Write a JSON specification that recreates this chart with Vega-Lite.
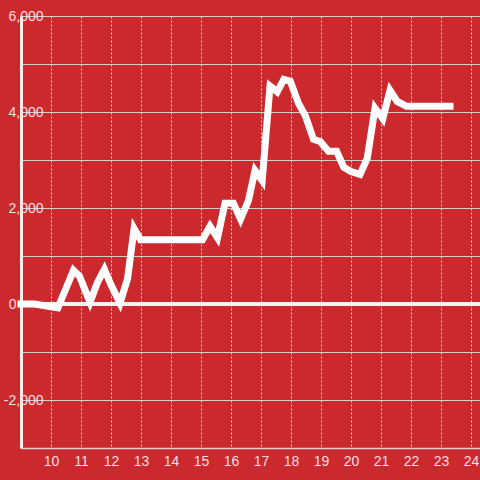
{
  "$schema": "https://vega.github.io/schema/vega-lite/v6.json",
  "width": 459,
  "height": 432,
  "autosize": {"type": "none"},
  "padding": {"left": 21, "top": 16, "right": 0, "bottom": 32},
  "background": "#cc292e",
  "config": {
    "view": {"stroke": null},
    "font": "Liberation Sans",
    "locale": {"number": {"decimal": ".", "thousands": ",", "grouping": [3], "currency": ["$", ""], "minus": "-"}}
  },
  "data": {
    "values": [
      {"t": 9.0, "v": 0},
      {"t": 9.45, "v": 0},
      {"t": 10.23, "v": -80},
      {"t": 10.45, "v": 250},
      {"t": 10.75, "v": 700},
      {"t": 10.95, "v": 580},
      {"t": 11.3, "v": 40},
      {"t": 11.55, "v": 450},
      {"t": 11.78, "v": 720},
      {"t": 12.0, "v": 400},
      {"t": 12.3, "v": 20},
      {"t": 12.55, "v": 520},
      {"t": 12.77, "v": 1570},
      {"t": 12.98, "v": 1340},
      {"t": 15.05, "v": 1340},
      {"t": 15.3, "v": 1620},
      {"t": 15.55, "v": 1380},
      {"t": 15.8, "v": 2100},
      {"t": 16.08, "v": 2100},
      {"t": 16.32, "v": 1770},
      {"t": 16.58, "v": 2150},
      {"t": 16.8, "v": 2780},
      {"t": 17.04, "v": 2570},
      {"t": 17.3, "v": 4540},
      {"t": 17.54, "v": 4420},
      {"t": 17.76, "v": 4680},
      {"t": 17.98, "v": 4640},
      {"t": 18.25, "v": 4180},
      {"t": 18.48, "v": 3920},
      {"t": 18.75, "v": 3430},
      {"t": 18.98, "v": 3380},
      {"t": 19.25, "v": 3180},
      {"t": 19.52, "v": 3180},
      {"t": 19.76, "v": 2850},
      {"t": 20.0, "v": 2760},
      {"t": 20.3, "v": 2700},
      {"t": 20.54, "v": 3030},
      {"t": 20.8, "v": 4080},
      {"t": 21.06, "v": 3860},
      {"t": 21.3, "v": 4450},
      {"t": 21.54, "v": 4220},
      {"t": 21.85, "v": 4120},
      {"t": 23.3, "v": 4120}
    ]
  },
  "resolve": {"axis": {"y": "independent"}, "scale": {"y": "shared"}},
  "layer": [
    {
      "mark": {"type": "rule", "color": "#f7f4f4", "strokeWidth": 3},
      "encoding": {
        "y": {
          "datum": 0,
          "type": "quantitative",
          "scale": {"domain": [-3000, 6000], "nice": false, "zero": false},
          "axis": {
            "orient": "left",
            "values": [-3000, -2000, -1000, 0, 1000, 2000, 3000, 4000, 5000, 6000],
            "grid": true,
            "gridColor": "#cfcfcf",
            "gridWidth": 1,
            "domain": true,
            "domainColor": "#f4f0f0",
            "domainWidth": 3,
            "ticks": false,
            "labels": false,
            "title": null,
            "zindex": 0
          }
        }
      }
    },
    {
      "mark": {"type": "line", "color": "#ffffff", "strokeWidth": 7, "strokeCap": "square", "strokeJoin": "miter"},
      "encoding": {
        "x": {
          "field": "t",
          "type": "quantitative",
          "scale": {"domain": [9, 24.3], "nice": false, "zero": false},
          "axis": {
            "values": [10, 11, 12, 13, 14, 15, 16, 17, 18, 19, 20, 21, 22, 23, 24],
            "grid": true,
            "gridColor": "#e2dcdc",
            "gridDash": [2, 2],
            "gridWidth": 1,
            "domain": true,
            "domainColor": "#d4d0d0",
            "domainWidth": 1.5,
            "ticks": false,
            "labelColor": "#f7dfe0",
            "labelFontSize": 14,
            "labelFont": "Liberation Sans",
            "labelPadding": 6,
            "labelFlush": false,
            "labelOverlap": false,
            "title": null,
            "zindex": 0
          }
        },
        "y": {
          "field": "v",
          "type": "quantitative",
          "scale": {"domain": [-3000, 6000], "nice": false, "zero": false},
          "axis": {
            "orient": "left",
            "values": [-2000, 0, 2000, 4000, 6000],
            "format": ",d",
            "grid": false,
            "domain": false,
            "ticks": false,
            "tickSize": 0,
            "labelPadding": {"condition": {"test": "datum.value === 0", "value": 5}, "value": -22},
            "labelAlign": "right",
            "labelBaseline": "middle",
            "labelFontSize": 14,
            "labelFont": "Liberation Sans",
            "labelColor": "#f7dfe0",
            "labelFlush": false,
            "labelOverlap": false,
            "title": null,
            "zindex": 1
          }
        }
      }
    }
  ]
}
